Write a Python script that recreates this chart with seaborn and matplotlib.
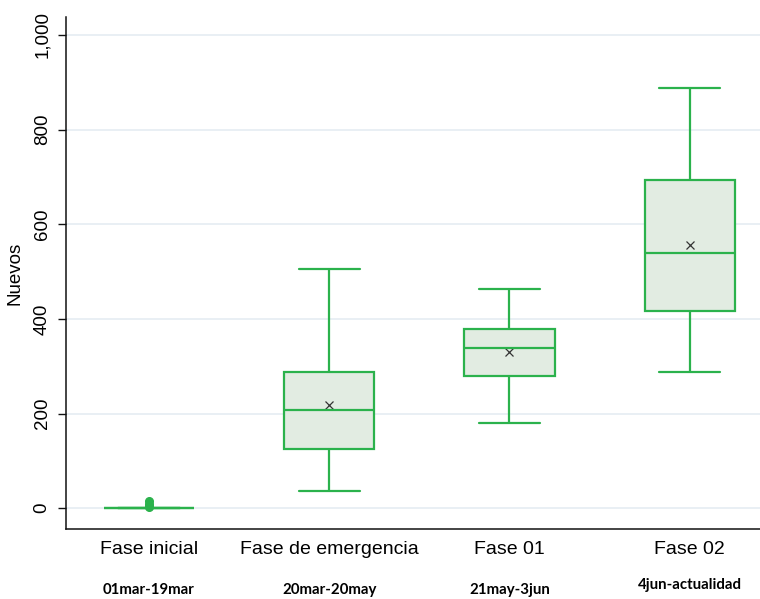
import numpy as np
import pandas as pd
import matplotlib
matplotlib.use("Agg")
import matplotlib.pyplot as plt
import matplotlib.transforms as mtransforms
import seaborn as sns

categories = ["Fase inicial", "Fase de emergencia", "Fase 01", "Fase 02"]
periods = ["01mar-19mar", "20mar-20may", "21may-3jun", "4jun-actualidad"]

# values per phase
fase_inicial = [0, 0, 0, 0, 0, 0, 0, 0, 0, 0, 0, 0, 0, 0, 0, 2, 5, 9, 15]
fase_emergencia = [36, 125, 208, 288, 505]
fase_01 = [179, 279, 338, 378, 463]
fase_02 = [287, 416, 539, 693, 888]
means = [np.nan, 218, 330, 556]

yticks = [0, 200, 400, 600, 800, 1000]
ytick_labels = ["0", "200", "400", "600", "800", "1,000"]

green = "#2bb24c"
fill = "#e0eee0"

df = pd.DataFrame({
    "fase": [categories[0]] * len(fase_inicial) + [categories[1]] * len(fase_emergencia)
            + [categories[2]] * len(fase_01) + [categories[3]] * len(fase_02),
    "nuevos": fase_inicial + fase_emergencia + fase_01 + fase_02,
})

sns.set_style("white")
plt.rcParams['font.family'] = ['Liberation Sans', 'DejaVu Sans']
plt.rcParams['text.color'] = "black"
plt.rcParams['axes.labelcolor'] = "black"
plt.rcParams['xtick.color'] = "black"
plt.rcParams['ytick.color'] = "black"

fig = plt.figure(figsize=(7.6, 5.99), dpi=100)
ax = fig.add_axes([66 / 760, 70 / 599, 694 / 760, 512 / 599])

sns.boxplot(
    data=df, x="fase", y="nuevos", order=categories, ax=ax,
    width=0.5, color=fill, linecolor=green, linewidth=1.6,
    whis=1.5, fliersize=5.5, capwidths=0.34,
    flierprops=dict(marker="o", markerfacecolor=green, markeredgecolor=green),
    medianprops=dict(color=green),
)

sns.pointplot(
    x=categories, y=means, order=categories, ax=ax, errorbar=None,
    color="#333333", marker="x", linestyle="none", markersize=6,
    markeredgewidth=0.9,
)

ax.set_xlim(-0.46, 3.39)
ax.set_ylim(-44, 1038)
ax.set_yticks(yticks)
ax.set_yticklabels(ytick_labels)
ax.yaxis.grid(True, color="#e7eef3", linewidth=1.3)
ax.set_axisbelow(True)

ax.tick_params(axis="y", labelrotation=90, length=6, width=1, color="#111111",
               labelsize=13.5, pad=5, left=True)
for lab in ax.get_yticklabels():
    lab.set_va("center")
ax.tick_params(axis="x", length=0, labelsize=14, pad=9)

ax.set_xlabel("")
ax.set_ylabel("Nuevos", fontsize=13.5, labelpad=7)

for side in ["top", "right"]:
    ax.spines[side].set_visible(False)
for side in ["left", "bottom"]:
    ax.spines[side].set_color("#111111")
    ax.spines[side].set_linewidth(1.1)

# date ranges below each phase
trans = mtransforms.blended_transform_factory(ax.transData, fig.transFigure)
for i, p in enumerate(periods):
    y = 0.024 if i == 3 else 0.015
    ax.text(i, y, p, transform=trans, ha="center", va="center",
            fontsize=10.8, fontweight="bold", family=["Lato", "DejaVu Sans"])

fig.savefig("out.png", dpi=100)
